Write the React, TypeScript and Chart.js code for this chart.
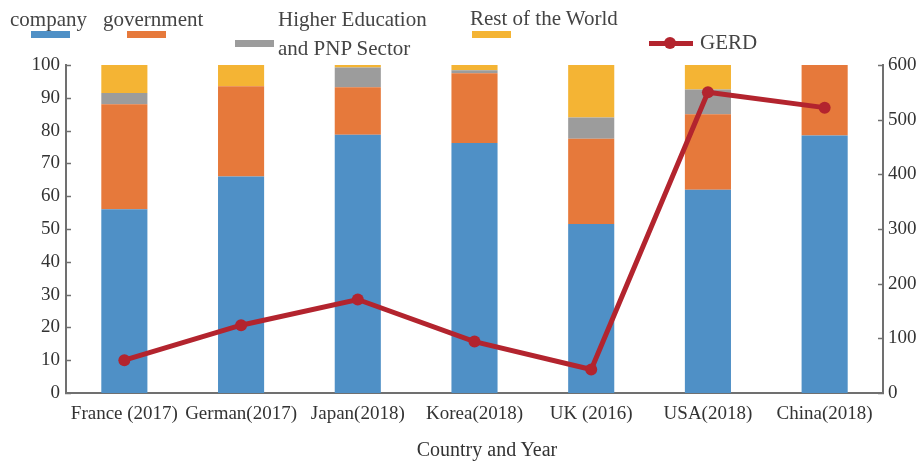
import React, { useEffect, useRef } from "react";
import { Chart, registerables } from "chart.js";

Chart.register(...registerables);

const categories = ["France (2017)", "German(2017)", "Japan(2018)", "Korea(2018)", "UK (2016)", "USA(2018)", "China(2018)"];
const companyShare = [56, 66, 78.7, 76.2, 51.5, 62, 78.5];
const governmentShare = [32, 27.5, 14.5, 21.3, 26, 23, 21.5];
const higherEduShare = [3.5, 0, 6, 0.9, 6.5, 7.5, 0];
const restOfWorldShare = [8.5, 6.5, 0.8, 1.6, 16, 7.5, 0];
const gerdValues = [60, 124, 171, 94, 43, 550, 522];

const seriesNames = ["company", "government", "Higher Education and PNP Sector", "Rest of the World", "GERD"];

const BLUE = "#4f90c6";
const ORANGE = "#e6793b";
const GRAY = "#9c9c9c";
const YELLOW = "#f4b434";
const RED = "#b3242e";
const AXIS = "#707070";
const SERIF = "'Liberation Serif', 'DejaVu Serif', serif";

const innerTicks = {
  id: "innerTicks",
  afterDraw(chart: any) {
    const ctx = chart.ctx;
    const area = chart.chartArea;
    ctx.save();
    ctx.strokeStyle = AXIS;
    ctx.lineWidth = 1.5;
    const y = chart.scales.y;
    y.ticks.forEach((t: any) => {
      const py = Math.round(y.getPixelForValue(t.value)) + 0.5;
      ctx.beginPath();
      ctx.moveTo(area.left - 1, py);
      ctx.lineTo(area.left + 5, py);
      ctx.stroke();
    });
    const y1 = chart.scales.y1;
    y1.ticks.forEach((t: any) => {
      const py = Math.round(y1.getPixelForValue(t.value)) + 0.5;
      ctx.beginPath();
      ctx.moveTo(area.right - 5, py);
      ctx.lineTo(area.right + 1, py);
      ctx.stroke();
    });
    ctx.restore();
  },
};

export default function App() {
  const ref = useRef<HTMLCanvasElement | null>(null);

  useEffect(() => {
    if (!ref.current) return;
    const chart = new Chart(ref.current, {
      type: "bar",
      data: {
        labels: categories,
        datasets: [
          {
            type: "line",
            label: seriesNames[4],
            data: gerdValues,
            yAxisID: "y1",
            borderColor: RED,
            backgroundColor: RED,
            borderWidth: 5,
            pointRadius: 6,
            pointBackgroundColor: RED,
            pointBorderWidth: 0,
            tension: 0,
            order: 0,
          } as any,
          { label: seriesNames[0], data: companyShare, backgroundColor: BLUE, yAxisID: "y", order: 1, stack: "s" },
          { label: seriesNames[1], data: governmentShare, backgroundColor: ORANGE, yAxisID: "y", order: 1, stack: "s" },
          { label: seriesNames[2], data: higherEduShare, backgroundColor: GRAY, yAxisID: "y", order: 1, stack: "s" },
          { label: seriesNames[3], data: restOfWorldShare, backgroundColor: YELLOW, yAxisID: "y", order: 1, stack: "s" },
        ],
      },
      options: {
        responsive: false,
        animation: false,
        devicePixelRatio: 1,
        layout: { padding: { top: 65, left: 0, right: 0, bottom: 0 } },
        datasets: { bar: { categoryPercentage: 1, barPercentage: 0.395 } },
        plugins: { legend: { display: false }, tooltip: { enabled: false } },
        scales: {
          x: {
            stacked: true,
            grid: { display: false, drawTicks: false },
            border: { display: true, color: AXIS, width: 2 },
            ticks: { color: "#333", font: { family: SERIF, size: 19 }, padding: 10, maxRotation: 0, autoSkip: false },
            title: { display: false },
            afterFit: (s: any) => { s.height = 75; },
          },
          y: {
            stacked: true,
            position: "left",
            min: 0,
            max: 100,
            ticks: { stepSize: 10, color: "#333", font: { family: SERIF, size: 19 }, padding: 6 },
            grid: { display: false, drawTicks: false },
            border: { display: true, color: AXIS, width: 2 },
            afterFit: (s: any) => { s.width = 66; },
          },
          y1: {
            position: "right",
            min: 0,
            max: 600,
            ticks: { stepSize: 100, color: "#333", font: { family: SERIF, size: 19 }, padding: 5 },
            grid: { display: false, drawTicks: false },
            border: { display: true, color: AXIS, width: 2 },
            afterFit: (s: any) => { s.width = 40; },
          },
        },
      },
      plugins: [innerTicks],
    });
    return () => chart.destroy();
  }, []);

  const text = (left: number, top: number, s: string, size = 21) => (
    <div style={{ position: "absolute", left, top, fontFamily: SERIF, fontSize: size, lineHeight: size + "px", color: "#444", whiteSpace: "nowrap" }}>{s}</div>
  );
  const sw = (left: number, top: number, color: string) => (
    <div style={{ position: "absolute", left, top, width: 39, height: 7, background: color }} />
  );

  return (
    <div style={{ position: "absolute", left: 0, top: 0, width: 923, height: 468, background: "#fff" }}>
      <canvas ref={ref} width={923} height={468} style={{ width: 923, height: 468, display: "block" }} />
      {text(10, 9, seriesNames[0])}
      {sw(31, 31, BLUE)}
      {text(103, 9, seriesNames[1])}
      {sw(127, 31, ORANGE)}
      {sw(235, 40, GRAY)}
      {text(278, 9, "Higher Education")}
      {text(278, 38, "and PNP Sector")}
      {text(470, 8, seriesNames[3])}
      {sw(472, 31, YELLOW)}
      <div style={{ position: "absolute", left: 649, top: 41, width: 44, height: 5, background: RED }} />
      <div style={{ position: "absolute", left: 664, top: 37, width: 12, height: 12, borderRadius: 6, background: RED }} />
      {text(700, 32, seriesNames[4])}
      <div style={{ position: "absolute", left: 487, top: 439, transform: "translateX(-50%)", fontFamily: SERIF, fontSize: 20, lineHeight: "20px", color: "#333", whiteSpace: "nowrap" }}>Country and Year</div>
    </div>
  );
}
